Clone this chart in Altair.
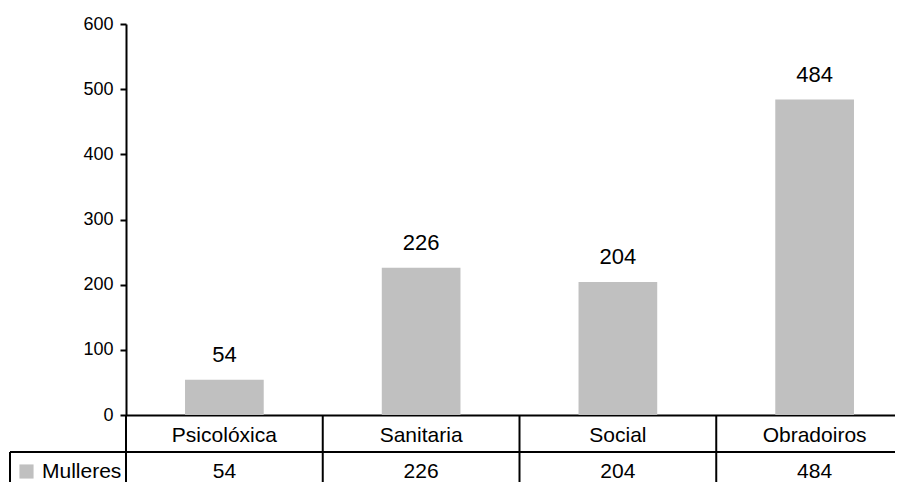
import altair as alt
import pandas as pd

categories = ["Psicolóxica", "Sanitaria", "Social", "Obradoiros"]
mulleres = [54, 226, 204, 484]
series_name = "Mulleres"
y_ticks = [0, 100, 200, 300, 400, 500, 600]

df = pd.DataFrame({"categoria": categories, "valor": mulleres, "serie": [series_name] * len(categories)})

W, H = 769, 391      # visible plot width (page is cut at the right), plot height
FULL_W = 787         # full width of the four table columns
ROW = 37
FONT = "Liberation Sans"

x_scale = alt.Scale(paddingInner=0, paddingOuter=0, range=[0, FULL_W])

x_enc = alt.X("categoria:N", sort=categories, scale=x_scale,
              axis=alt.Axis(title=None, ticks=False, labelAngle=0, labelFontSize=21,
                            labelColor="black", labelBaseline="alphabetic", labelPadding=26,
                            domainColor="black", domainWidth=2, grid=False))
y_enc = alt.Y("valor:Q", scale=alt.Scale(domain=[0, 600], nice=False),
              axis=alt.Axis(title=None, values=y_ticks, grid=False, domainColor="black",
                            domainWidth=2, tickColor="black", tickWidth=2, tickSize=6,
                            labelFontSize=18, labelColor="black", labelPadding=7))

base = alt.Chart(df)

bars = base.mark_bar(width=alt.RelativeBandSize(0.4)).encode(
    x=x_enc, y=y_enc,
    color=alt.Color("serie:N", scale=alt.Scale(range=["#c0c0c0"]),
                    legend=alt.Legend(orient="none", legendX=-110, legendY=437, title=None,
                                      symbolType="square", symbolSize=200, symbolStrokeWidth=0,
                                      labelFontSize=21, labelColor="black", labelOffset=5,
                                      padding=0))
)

labels = base.mark_text(baseline="alphabetic", dy=-18, fontSize=22, color="black").encode(
    x=alt.X("categoria:N", sort=categories), y="valor:Q", text="valor:Q"
)

table_vals = base.mark_text(baseline="alphabetic", fontSize=21, color="black").encode(
    x=alt.X("categoria:N", sort=categories), y=alt.value(H + ROW + 26), text="valor:Q"
)

col_lines = base.mark_rule(color="black", strokeWidth=2).encode(
    x=alt.X("categoria:N", sort=categories, bandPosition=0),
    y=alt.value(H), y2=alt.value(H + 2 * ROW)
)

row_line = base.mark_rule(color="black", strokeWidth=2).encode(
    x=alt.value(-116), x2=alt.value(FULL_W), y=alt.value(H + ROW)
)

left_border = base.mark_rule(color="black", strokeWidth=2).encode(
    x=alt.value(-116), y=alt.value(H + ROW), y2=alt.value(H + 2 * ROW)
)

chart = alt.layer(bars, labels, table_vals, col_lines, row_line, left_border).properties(
    width=W, height=H,
    autosize=alt.AutoSizeParams(type="none"),
    padding={"left": 118, "top": 16, "right": 0, "bottom": 67}
).configure(font=FONT).configure_view(strokeWidth=0, stroke="transparent").configure_axis(
    labelFont=FONT).configure_text(font=FONT).configure_legend(labelFont=FONT)

chart.save("out.html", embed_options={"renderer": "svg", "actions": False})
